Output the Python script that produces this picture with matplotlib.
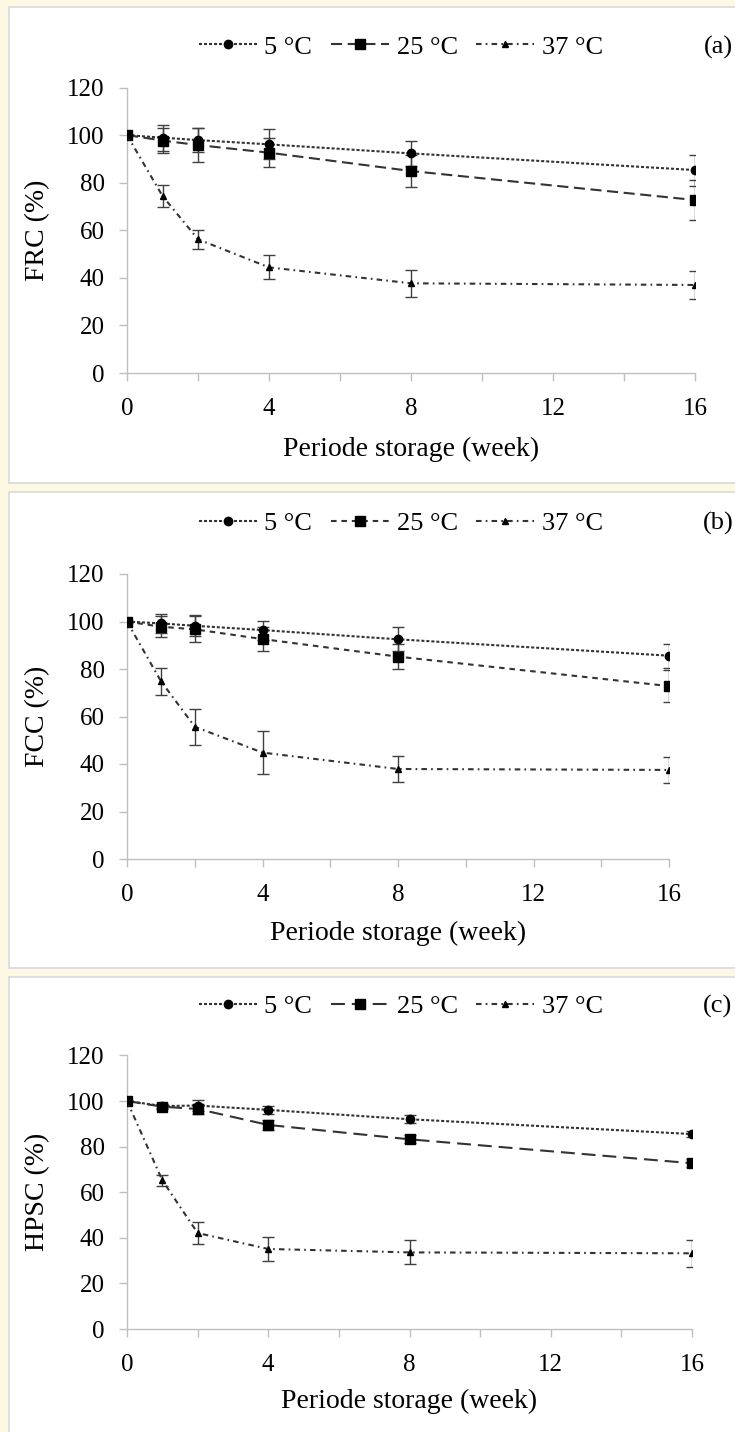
import matplotlib
matplotlib.use("Agg")
import matplotlib.pyplot as plt
from matplotlib.patches import Rectangle

plt.rcParams['font.family'] = ['Liberation Serif', 'DejaVu Serif']
plt.rcParams['lines.scale_dashes'] = False

W, H = 735, 1432

# storage period (weeks)
weeks = [0, 1, 2, 4, 8, 16]
temps = ["5 °C", "25 °C", "37 °C"]

# (a) FRC (%)
frc_5 = [100, 98.9, 97.9, 96.1, 92.3, 85.3]
frc_5_err = [0, 5.5, 5.2, 6.3, 5.4, 6.5]
frc_25 = [100, 97.7, 95.8, 92.6, 84.9, 72.7]
frc_25_err = [0, 5.4, 7.0, 6.1, 6.9, 8.4]
frc_37 = [100, 74.4, 56.2, 44.4, 37.7, 37.0]
frc_37_err = [0, 4.8, 4.1, 5.0, 5.6, 5.7]

# (b) FCC (%)
fcc_5 = [100, 99.2, 98.2, 96.4, 92.5, 85.6]
fcc_5_err = [0, 4.0, 4.5, 4.0, 5.0, 5.0]
fcc_25 = [100, 97.8, 96.7, 92.6, 85.2, 72.8]
fcc_25_err = [0, 4.5, 5.5, 5.0, 5.3, 6.6]
fcc_37 = [100, 74.9, 55.7, 44.8, 37.9, 37.5]
fcc_37_err = [0, 5.7, 7.5, 9.0, 5.6, 5.3]

# (c) HPSC (%)
hpsc_5 = [100, 97.8, 98.0, 96.1, 92.0, 85.5]
hpsc_5_err = [0, 1.0, 2.5, 1.8, 1.8, 1.5]
hpsc_25 = [100, 97.5, 96.5, 89.5, 83.2, 72.7]
hpsc_25_err = [0, 1.0, 2.0, 2.0, 1.8, 1.8]
hpsc_37 = [100, 65.2, 42.1, 35.1, 33.6, 33.2]
hpsc_37_err = [0, 2.5, 4.7, 5.4, 5.3, 6.0]


def fx(px):
    return px / W


def fy(py):
    return 1 - py / H


fig = plt.figure(figsize=(W / 100, H / 100), dpi=100, facecolor='#fdf8e3')

# panel box (left, top, bottom px), axes box (left, right, y at 0, y at 120), xlabel top px
panels = [
    dict(box=(9, 7, 483), ax=(127, 695, 373, 87.5), xl_top=437,
         label="FRC (%)", tag="(a)", leg_y=47, dash25=(0, (8, 4)),
         data=[(frc_5, frc_5_err), (frc_25, frc_25_err), (frc_37, frc_37_err)]),
    dict(box=(9, 492, 968), ax=(127, 669, 859, 574), xl_top=921,
         label="FCC (%)", tag="(b)", leg_y=523, dash25=(0, (4, 3.5)),
         data=[(fcc_5, fcc_5_err), (fcc_25, fcc_25_err), (fcc_37, fcc_37_err)]),
    dict(box=(9, 977, 1440), ax=(127, 692, 1329, 1055.4), xl_top=1389,
         label="HPSC (%)", tag="(c)", leg_y=1006, dash25=(0, (10, 5)),
         data=[(hpsc_5, hpsc_5_err), (hpsc_25, hpsc_25_err), (hpsc_37, hpsc_37_err)]),
]

line_col = '#333333'
spine_col = '#bfbfbf'

for p in panels:
    bl, bt, bb = p['box']
    fig.add_artist(Rectangle((fx(bl), fy(bb)), fx(W + 10) - fx(bl), fy(bt) - fy(bb),
                             transform=fig.transFigure, facecolor='white',
                             edgecolor='#d9d9d9', linewidth=1.2, zorder=0))

    l, r, y0, y120 = p['ax']
    ax = fig.add_axes([fx(l), fy(y0), fx(r) - fx(l), fy(y120) - fy(y0)])
    ax.set_facecolor('none')

    styles = [
        dict(marker='o', ms=6, ls=(0, (2.2, 1.4))),
        dict(marker='s', ms=6.5, ls=p['dash25']),
        dict(marker='^', ms=4, ls=(0, (4, 3, 1.2, 3))),
    ]
    handles = []
    for (vals, errs), st, name in zip(p['data'], styles, temps):
        ax.errorbar(weeks, vals, yerr=errs, fmt='none', ecolor='#404040',
                    elinewidth=1.0, capsize=4, capthick=1.0, zorder=2)
        h, = ax.plot(weeks, vals, color=line_col, lw=1.5, linestyle=st['ls'],
                     marker=st['marker'], markersize=st['ms'],
                     markerfacecolor='black', markeredgecolor='black', zorder=3,
                     label=name)
        handles.append(h)

    ax.set_xlim(0, 16)
    ax.set_ylim(0, 120)
    ax.set_xticks([0, 4, 8, 12, 16])
    ax.set_xticks([2, 6, 10, 14], minor=True)
    ax.set_yticks(range(0, 121, 20))
    for s in ['top', 'right']:
        ax.spines[s].set_visible(False)
    for s in ['left', 'bottom']:
        ax.spines[s].set_color(spine_col)
        ax.spines[s].set_linewidth(1.0)
    ax.tick_params(axis='both', which='both', direction='out', length=6,
                   color=spine_col, width=1.0, labelsize=18)
    ax.tick_params(axis='x', which='both', pad=12)
    ax.tick_params(axis='y', pad=10)

    ax.set_xlabel("Periode storage (week)", fontsize=20)
    ax.xaxis.set_label_coords(0.5, (y0 - p['xl_top']) / (y0 - y120))
    ax.set_ylabel(p['label'], fontsize=20)
    ax.yaxis.set_label_coords((50 - l) / (r - l), 0.5)

    fig.legend(handles=handles, loc='center', ncol=3, frameon=False,
               fontsize=19, handlelength=2.2, handletextpad=0.3,
               columnspacing=0.7, numpoints=1,
               bbox_to_anchor=(fx(401), fy(p['leg_y'])),
               bbox_transform=fig.transFigure)
    fig.text(fx(718), fy(p['leg_y']), p['tag'], fontsize=19,
             ha='center', va='center')

fig.savefig("out.png", dpi=100, facecolor=fig.get_facecolor())
